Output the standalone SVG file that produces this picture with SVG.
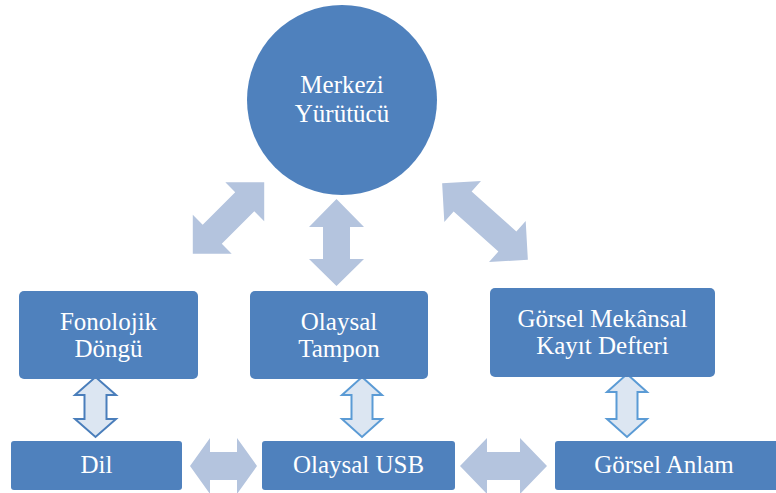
<svg xmlns="http://www.w3.org/2000/svg" width="776" height="493" viewBox="0 0 776 493">
<style>
.node{fill:#4f81bd}
.t{font-family:"Liberation Serif",serif;font-size:25px;fill:#ffffff;text-anchor:middle}
.big{fill:#b4c4de}
.out{fill:#dce6f2;stroke:#5b9bd5;stroke-width:2;stroke-linejoin:miter}
.out2{fill:#dce6f2;stroke:#4a7ebb;stroke-width:2;stroke-linejoin:miter}
</style>
<rect width="776" height="493" fill="#ffffff"/>
<g id="connectors">
  <path class="big" transform="translate(228.5,218) rotate(-45)" d="M-50.5 0 L-23 -27.5 L-23 -13.5 L23 -13.5 L23 -27.5 L50.5 0 L23 27.5 L23 13.5 L-23 13.5 L-23 27.5 Z"/>
  <path class="big" d="M336.5 199 L364 227 L350 227 L350 259 L364 259 L336.5 286 L309 259 L323 259 L323 227 L309 227 Z"/>
  <path class="big" transform="translate(485,221.5) rotate(41.8)" d="M-57.5 0 L-30 -27.5 L-30 -13.5 L30 -13.5 L30 -27.5 L57.5 0 L30 27.5 L30 13.5 L-30 13.5 L-30 27.5 Z"/>
  <path class="big" d="M190 466 L210 438 L210 452 L237 452 L237 438 L257 466 L237 494 L237 480 L210 480 L210 494 Z"/>
  <path class="big" d="M460 466 L487 438 L487 452 L520 452 L520 438 L547 466 L520 494 L520 480 L487 480 L487 494 Z"/>
  <path class="out2" d="M95.5 377 L116 395 L106.5 395 L106.5 419 L116 419 L95.5 437 L75 419 L84.5 419 L84.5 395 L75 395 Z"/>
  <path class="out" d="M362 377 L382 395 L372.5 395 L372.5 419 L382 419 L362 437 L342 419 L351.5 419 L351.5 395 L342 395 Z"/>
  <path class="out" d="M627 374 L647 392 L637.5 392 L637.5 419 L647 419 L627 437 L607 419 L616.5 419 L616.5 392 L607 392 Z"/>
</g>
<g id="merkezi">
  <circle class="node" cx="342" cy="100" r="95"/>
  <text class="t" x="342" y="93">Merkezi</text>
  <text class="t" x="342" y="122">Y&#252;r&#252;t&#252;c&#252;</text>
</g>
<g id="fonolojik">
  <rect class="node" x="19" y="291" width="179" height="88" rx="5"/>
  <text class="t" x="108.5" y="330">Fonolojik</text>
  <text class="t" x="108.5" y="357">D&#246;ng&#252;</text>
</g>
<g id="tampon">
  <rect class="node" x="250" y="291" width="178" height="88" rx="5"/>
  <text class="t" x="339" y="330">Olaysal</text>
  <text class="t" x="339" y="357">Tampon</text>
</g>
<g id="gorsel-mekansal">
  <rect class="node" x="490" y="288" width="225" height="89" rx="5"/>
  <text class="t" x="602.5" y="327">G&#246;rsel Mek&#226;nsal</text>
  <text class="t" x="602.5" y="354">Kay&#305;t Defteri</text>
</g>
<g id="dil">
  <rect class="node" x="11" y="441" width="171" height="49" rx="3"/>
  <text class="t" x="96.5" y="473">Dil</text>
</g>
<g id="usb">
  <rect class="node" x="262" y="441" width="193" height="49" rx="3"/>
  <text class="t" x="358.5" y="473">Olaysal USB</text>
</g>
<g id="gorsel-anlam">
  <rect class="node" x="555" y="441" width="225" height="49" rx="3"/>
  <text class="t" x="664" y="473">G&#246;rsel Anlam</text>
</g>
</svg>
